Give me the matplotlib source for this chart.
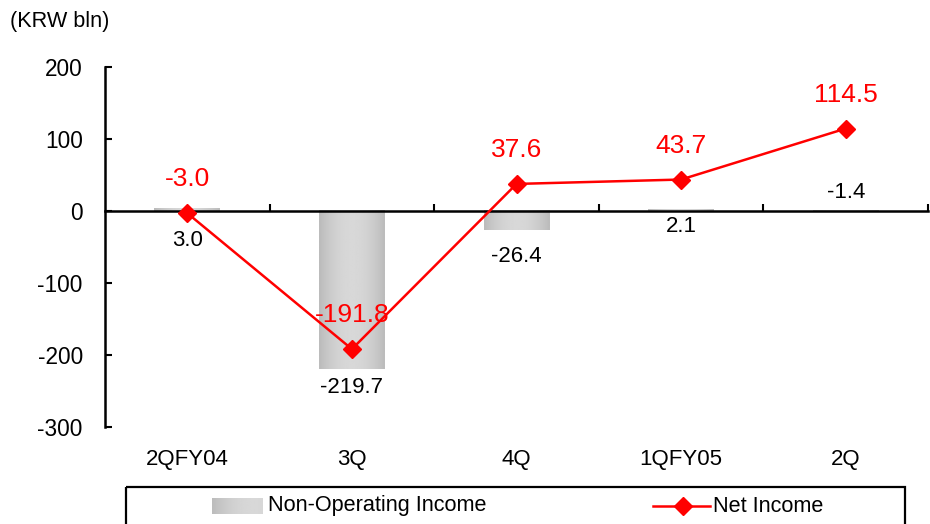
import numpy as np
import matplotlib
matplotlib.use("Agg")
import matplotlib.pyplot as plt
from matplotlib.patches import Rectangle
from matplotlib.lines import Line2D
from matplotlib.transforms import blended_transform_factory, offset_copy

plt.rcParams['font.family'] = ['Liberation Sans', 'DejaVu Sans']

categories = ["2QFY04", "3Q", "4Q", "1QFY05", "2Q"]
non_operating_income = [3.0, -219.7, -26.4, 2.1, -1.4]
net_income = [-3.0, -191.8, 37.6, 43.7, 114.5]
y_ticks = [-300, -200, -100, 0, 100, 200]
unit_label = "(KRW bln)"
series_names = ["Non-Operating Income", "Net Income"]

RED = "#ff0000"
W, H, DPI = 930, 524, 100
fig = plt.figure(figsize=(W / DPI, H / DPI), dpi=DPI)
ax = fig.add_axes([105 / W, 1 - 427 / H, 823 / W, 360 / H])

x = np.arange(len(categories))
bar_w = 0.4

# horizontal shading: darker edges, lighter centre (cylinder look)
t = np.linspace(-1, 1, 64)
shade = 0.845 - 0.11 * t ** 2
grad = np.tile(shade, (2, 1))

for xi, v in zip(x, non_operating_income):
    lo, hi = min(0, v), max(0, v)
    ax.imshow(grad, cmap="gray", vmin=0, vmax=1, aspect="auto",
              extent=[xi - bar_w / 2, xi + bar_w / 2, lo, hi],
              interpolation="bilinear", zorder=1)

ax.plot(x, net_income, color=RED, lw=1.8, marker="D", markersize=9.5,
        markeredgecolor=RED, zorder=4, clip_on=False)

ax.set_xlim(-0.5, len(categories) - 0.5)
ax.set_ylim(-300, 200)
ax.set_yticks(y_ticks)
ax.set_yticklabels([str(v) for v in y_ticks], fontsize=16.3)
ax.tick_params(axis="y", direction="in", length=5, width=1.5, pad=16)

ax.spines["bottom"].set_position(("data", 0))
ax.spines["bottom"].set_linewidth(1.8)
ax.spines["bottom"].set_zorder(3)
ax.spines["left"].set_linewidth(1.8)
ax.spines["top"].set_visible(False)
ax.spines["right"].set_visible(False)
ax.set_xticks(np.arange(0.5, len(categories), 1.0))
ax.set_xticklabels([])
ax.tick_params(axis="x", direction="in", length=5, width=1.5)

# category names beneath the plotting area
trans_cat = blended_transform_factory(ax.transData, ax.transAxes)
for xi, c in zip(x, categories):
    ax.text(xi, 0, c, transform=offset_copy(trans_cat, fig=fig, y=-33, units="dots"),
            ha="center", va="center", fontsize=16)

# value labels
bar_offsets = [-29, -18, -26, -15, 18]
for xi, v, off in zip(x, non_operating_income, bar_offsets):
    base = min(0, v) if off < 0 else max(0, v)
    ax.text(xi, base, f"{v:.1f}",
            transform=offset_copy(ax.transData, fig=fig, y=off, units="dots"),
            ha="center", va="center", fontsize=16, zorder=5)
for xi, v in zip(x, net_income):
    ax.text(xi, v, f"{v:.1f}",
            transform=offset_copy(ax.transData, fig=fig, y=34, units="dots"),
            ha="center", va="center", fontsize=19, color=RED, zorder=5)

fig.text(60 / W, 1 - 22 / H, unit_label, ha="center", va="center", fontsize=15.6)

# legend panel drawn in pixel space
lay = fig.add_axes([0, 0, 1, 1], zorder=-1)
lay.set_xlim(0, W)
lay.set_ylim(H, 0)
lay.axis("off")
lay.add_patch(Rectangle((126, 487), 779, 60, fill=False, ec="black", lw=1.6))
lay.imshow(np.tile(0.845 - 0.11 * np.linspace(1, -0.2, 64) ** 2, (2, 1)),
           cmap="gray", vmin=0, vmax=1, aspect="auto",
           extent=[212, 263, 514, 498], interpolation="bilinear")
lay.set_xlim(0, W)
lay.set_ylim(H, 0)
lay.text(268, 506, series_names[0], ha="left", va="center", fontsize=15.6)
lay.add_line(Line2D([653, 710], [506, 506], color=RED, lw=1.8))
lay.add_line(Line2D([683], [506], color=RED, marker="D", markersize=9.5))
lay.text(713, 506, series_names[1], ha="left", va="center", fontsize=15.6)

fig.savefig("out.png", dpi=DPI)
